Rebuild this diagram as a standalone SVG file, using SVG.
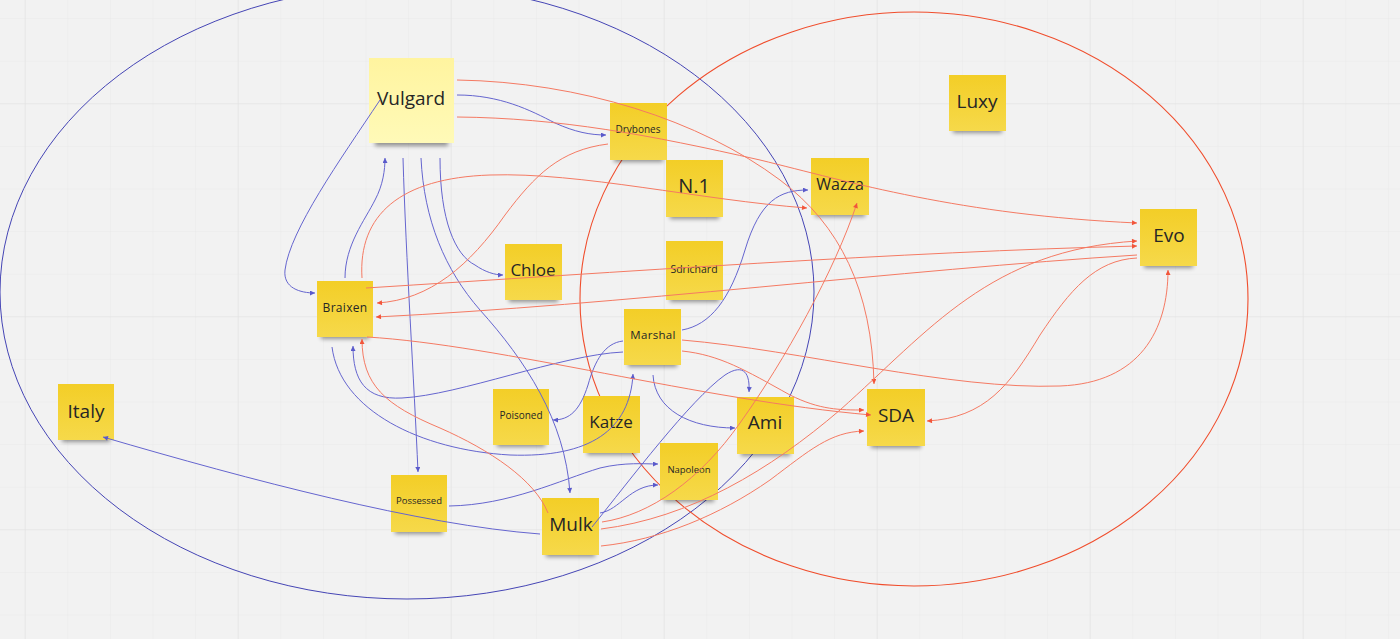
<svg xmlns="http://www.w3.org/2000/svg" width="1400" height="639" viewBox="0 0 1400 639">
<defs>
<pattern id="gmin" patternUnits="userSpaceOnUse" x="24.7" y="18.1" width="42.6" height="42.6">
<path d="M0,0 V42.6 M0,0 H42.6" stroke="#e9e9e9" stroke-width="1" fill="none"/>
</pattern>
<pattern id="gmaj" patternUnits="userSpaceOnUse" x="24.7" y="103.3" width="213" height="213">
<path d="M0,0 V213 M0,0 H213" stroke="#e2e2e2" stroke-width="1.2" fill="none"/>
</pattern>
<linearGradient id="ny" x1="0" y1="0" x2="0" y2="1">
<stop offset="0" stop-color="#f3ce27"/>
<stop offset="1" stop-color="#f6d94a"/>
</linearGradient>
<linearGradient id="nl" x1="0" y1="0" x2="0" y2="1">
<stop offset="0" stop-color="#fff49f"/>
<stop offset="1" stop-color="#fffab8"/>
</linearGradient>
<filter id="sh" x="-20%" y="-100%" width="140%" height="300%">
<feGaussianBlur stdDeviation="2.2"/>
</filter>
<marker id="ab" viewBox="0 0 10 10" refX="10" refY="5" markerWidth="7" markerHeight="5" markerUnits="userSpaceOnUse" orient="auto">
<path d="M0,0 L10,5 L0,10 z" fill="#5a5acb"/>
</marker>
<marker id="ar" viewBox="0 0 10 10" refX="10" refY="5" markerWidth="7" markerHeight="5" markerUnits="userSpaceOnUse" orient="auto">
<path d="M0,0 L10,5 L0,10 z" fill="#f2553a"/>
</marker>
</defs>
<style>
.note{fill:url(#ny)}
.light{fill:url(#nl)}
.shd{fill:#000;opacity:.4;filter:url(#sh)}
.t{font-family:"Open Sans","Liberation Sans",sans-serif;fill:#262626;text-anchor:middle}
.b{fill:none;stroke:#6565cf;stroke-width:1;marker-end:url(#ab)}
.r{fill:none;stroke:#f57a63;stroke-width:1;marker-end:url(#ar)}
</style>
<rect width="1400" height="639" fill="#f2f2f2"/>
<rect width="1400" height="639" fill="url(#gmin)"/>
<rect width="1400" height="639" fill="url(#gmaj)"/>

<g id="groups">
<ellipse cx="407" cy="292" rx="407" ry="307" fill="none" stroke="#4545b5" stroke-width="1"/>
<ellipse cx="914" cy="299" rx="334" ry="287" fill="none" stroke="#f04d2c" stroke-width="1.1"/>
</g>

<g id="node-vulgard"><rect class="shd" x="375" y="137" width="73" height="9"/><rect class="light" x="369" y="58" width="85" height="85"/><text class="t" x="411" y="105" font-size="19">Vulgard</text></g>
<g id="node-drybones"><rect class="shd" x="614" y="154" width="49" height="8"/><rect class="note" x="610" y="103" width="57" height="57"/><text class="t" x="638" y="133" font-size="10">Drybones</text></g>
<g id="node-n1"><rect class="shd" x="670" y="211" width="49" height="8"/><rect class="note" x="666" y="160" width="57" height="57"/><text class="t" x="694" y="193" font-size="20">N.1</text></g>
<g id="node-luxy"><rect class="shd" x="953" y="125" width="49" height="8"/><rect class="note" x="949" y="75" width="57" height="56"/><text class="t" x="977" y="108" font-size="19">Luxy</text></g>
<g id="node-wazza"><rect class="shd" x="815" y="209" width="50" height="8"/><rect class="note" x="811" y="158" width="58" height="57"/><text class="t" x="840" y="190" font-size="16">Wazza</text></g>
<g id="node-evo"><rect class="shd" x="1144" y="260" width="49" height="8"/><rect class="note" x="1140" y="209" width="57" height="57"/><text class="t" x="1169" y="242" font-size="19">Evo</text></g>
<g id="node-chloe"><rect class="shd" x="509" y="294" width="49" height="8"/><rect class="note" x="505" y="244" width="57" height="56"/><text class="t" x="533" y="276" font-size="17">Chloe</text></g>
<g id="node-sdrichard"><rect class="shd" x="670" y="294" width="49" height="8"/><rect class="note" x="666" y="241" width="57" height="59"/><text class="t" x="694" y="273" font-size="10.5">Sdrichard</text></g>
<g id="node-braixen"><rect class="shd" x="321" y="331" width="48" height="8"/><rect class="note" x="317" y="281" width="56" height="56"/><text class="t" x="345" y="312" font-size="12" letter-spacing="0.3">Braixen</text></g>
<g id="node-marshal"><rect class="shd" x="628" y="359" width="49" height="8"/><rect class="note" x="624" y="309" width="57" height="56"/><text class="t" x="653" y="339" font-size="11.5" letter-spacing="0.3">Marshal</text></g>
<g id="node-italy"><rect class="shd" x="62" y="434" width="48" height="8"/><rect class="note" x="58" y="384" width="56" height="56"/><text class="t" x="86" y="418" font-size="19">Italy</text></g>
<g id="node-poisoned"><rect class="shd" x="497" y="439" width="48" height="8"/><rect class="note" x="493" y="389" width="56" height="56"/><text class="t" x="521" y="419" font-size="10">Poisoned</text></g>
<g id="node-katze"><rect class="shd" x="587" y="447" width="49" height="8"/><rect class="note" x="583" y="396" width="57" height="57"/><text class="t" x="611" y="428" font-size="17">Katze</text></g>
<g id="node-ami"><rect class="shd" x="741" y="448" width="49" height="8"/><rect class="note" x="737" y="397" width="57" height="57"/><text class="t" x="765" y="429" font-size="19">Ami</text></g>
<g id="node-sda"><rect class="shd" x="871" y="440" width="50" height="8"/><rect class="note" x="867" y="389" width="58" height="57"/><text class="t" x="896" y="422" font-size="19">SDA</text></g>
<g id="node-napoleon"><rect class="shd" x="664" y="494" width="50" height="8"/><rect class="note" x="660" y="443" width="58" height="57"/><text class="t" x="689" y="473" font-size="9.5">Napoleon</text></g>
<g id="node-possessed"><rect class="shd" x="395" y="526" width="48" height="8"/><rect class="note" x="391" y="475" width="56" height="57"/><text class="t" x="419" y="504" font-size="9.5">Possessed</text></g>
<g id="node-mulk"><rect class="shd" x="546" y="549" width="49" height="8"/><rect class="note" x="542" y="498" width="57" height="57"/><text class="t" x="571" y="531" font-size="19">Mulk</text></g>

<g id="connectors">
<path class="b" d="M457,95 C500,95 530,110 555,123 C575,132 590,135 606,135"/>
<path class="b" d="M380,100 C340,160 290,230 285,270 C283,288 300,293 315,293"/>
<path class="b" d="M345,278 C345,245 365,220 375,200 C383,185 385,170 385,158"/>
<path class="b" d="M403,158 C406,260 414,380 418,472"/>
<path class="b" d="M421,158 C424,220 445,270 480,310 C525,360 565,420 570,493"/>
<path class="b" d="M440,158 C440,220 455,255 475,265 C485,272 495,275 503,275"/>
<path class="b" d="M332,347 C340,410 420,450 510,455 C590,458 630,430 633,374"/>
<path class="b" d="M623,352 C560,355 460,395 402,398 C365,400 353,380 353,346"/>
<path class="b" d="M623,341 C605,343 595,360 588,385 C580,410 570,420 553,420"/>
<path class="b" d="M682,330 C710,325 730,300 745,250 C760,200 780,190 808,190"/>
<path class="b" d="M653,375 C655,410 690,428 735,428"/>
<path class="b" d="M592,527 C630,480 690,400 725,375 C745,362 750,375 749,392"/>
<path class="b" d="M600,513 C620,510 630,485 658,485"/>
<path class="b" d="M449,506 C510,505 560,480 600,468 C625,462 645,464 658,464"/>
<path class="b" d="M540,534 C420,525 250,480 103,437"/>

<path class="r" d="M457,80 C580,82 700,120 780,180 C840,225 872,290 874,384"/>
<path class="r" d="M457,117 C560,118 650,135 760,160 C850,182 960,215 1137,223"/>
<path class="r" d="M362,278 C358,215 400,178 490,175 C580,172 700,200 807,208"/>
<path class="r" d="M366,288 C620,272 900,252 1137,246"/>
<path class="r" d="M1137,255 C900,270 620,305 376,317"/>
<path class="r" d="M608,144 C560,150 535,175 505,215 C470,265 430,300 377,303"/>
<path class="r" d="M367,337 C500,345 700,400 871,415"/>
<path class="r" d="M682,351 C720,355 745,370 790,395 C820,410 840,410 864,410"/>
<path class="r" d="M682,340 C800,350 950,390 1060,386 C1140,383 1168,330 1168,270"/>
<path class="r" d="M1137,258 C1095,260 1070,290 1040,335 C1010,385 985,418 927,421"/>
<path class="r" d="M548,513 C535,480 490,450 440,428 C385,405 362,385 362,339"/>
<path class="r" d="M602,522 C650,515 700,480 740,423 C785,360 835,270 857,203"/>
<path class="r" d="M601,529 C690,518 770,470 840,410 C930,330 990,250 1137,241"/>
<path class="r" d="M601,546 C660,540 720,515 770,480 C810,450 830,432 864,431"/>
</g>
</svg>
